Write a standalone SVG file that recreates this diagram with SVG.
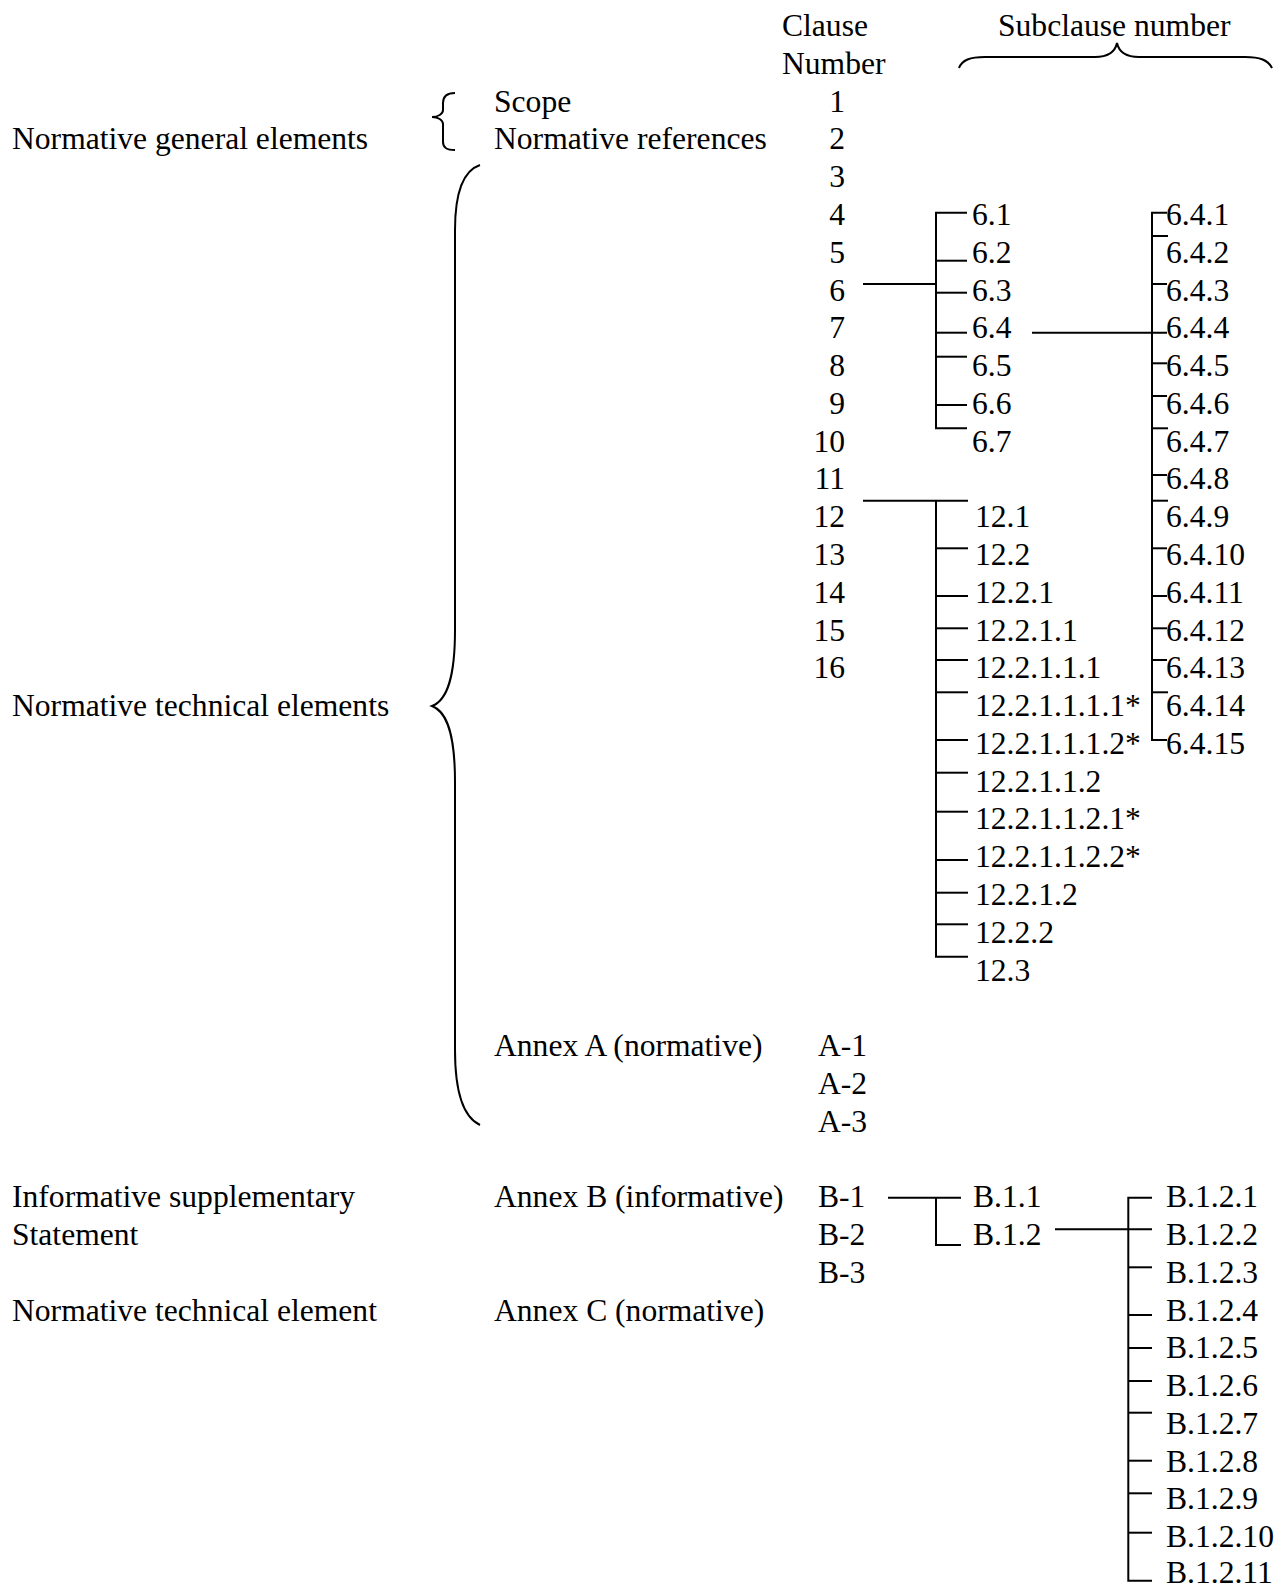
<svg xmlns="http://www.w3.org/2000/svg" width="1276" height="1586" viewBox="0 0 1276 1586">
<style>
text{font-family:"Liberation Serif","Times New Roman",serif;font-size:31.6px;fill:#000}
.r{text-anchor:end}
line,path{stroke:#000;stroke-width:2;fill:none}
</style>
<rect width="1276" height="1586" fill="#fff"/>
<g id="headers">
<text x="782" y="36">Clause</text>
<text x="782" y="73.8">Number</text>
<text x="998" y="36">Subclause number</text>
</g>
<g id="groups">
<text x="12" y="149.3">Normative general elements</text>
<text x="12" y="716">Normative technical elements</text>
<text x="12" y="1207.2">Informative supplementary</text>
<text x="12" y="1245">Statement</text>
<text x="12" y="1320.5">Normative technical element</text>
</g>
<g id="sections">
<text x="494" y="111.6">Scope</text>
<text x="494" y="149.3">Normative references</text>
<text x="494" y="1056.1">Annex A (normative)</text>
<text x="494" y="1207.2">Annex B (informative)</text>
<text x="494" y="1320.5">Annex C (normative)</text>
</g>
<g id="clauses">
<text class="r" x="845" y="111.6">1</text>
<text class="r" x="845" y="149.3">2</text>
<text class="r" x="845" y="187.1">3</text>
<text class="r" x="845" y="224.9">4</text>
<text class="r" x="845" y="262.7">5</text>
<text class="r" x="845" y="300.5">6</text>
<text class="r" x="845" y="338.2">7</text>
<text class="r" x="845" y="376">8</text>
<text class="r" x="845" y="413.8">9</text>
<text class="r" x="845" y="451.6">10</text>
<text class="r" x="845" y="489.4">11</text>
<text class="r" x="845" y="527.1">12</text>
<text class="r" x="845" y="564.9">13</text>
<text class="r" x="845" y="602.7">14</text>
<text class="r" x="845" y="640.5">15</text>
<text class="r" x="845" y="678.3">16</text>
<text x="818" y="1056.1">A-1</text>
<text x="818" y="1093.8">A-2</text>
<text x="818" y="1131.6">A-3</text>
<text x="818" y="1207.2">B-1</text>
<text x="818" y="1245">B-2</text>
<text x="818" y="1282.7">B-3</text>
</g>
<g id="sub6">
<text x="972" y="224.9">6.1</text>
<text x="972" y="262.7">6.2</text>
<text x="972" y="300.5">6.3</text>
<text x="972" y="338.2">6.4</text>
<text x="972" y="376">6.5</text>
<text x="972" y="413.8">6.6</text>
<text x="972" y="451.6">6.7</text>
</g>
<g id="sub64">
<text x="1166" y="224.9">6.4.1</text>
<text x="1166" y="262.7">6.4.2</text>
<text x="1166" y="300.5">6.4.3</text>
<text x="1166" y="338.2">6.4.4</text>
<text x="1166" y="376">6.4.5</text>
<text x="1166" y="413.8">6.4.6</text>
<text x="1166" y="451.6">6.4.7</text>
<text x="1166" y="489.4">6.4.8</text>
<text x="1166" y="527.1">6.4.9</text>
<text x="1166" y="564.9">6.4.10</text>
<text x="1166" y="602.7">6.4.11</text>
<text x="1166" y="640.5">6.4.12</text>
<text x="1166" y="678.3">6.4.13</text>
<text x="1166" y="716">6.4.14</text>
<text x="1166" y="753.8">6.4.15</text>
</g>
<g id="sub12">
<text x="975" y="527.1">12.1</text>
<text x="975" y="564.9">12.2</text>
<text x="975" y="602.7">12.2.1</text>
<text x="975" y="640.5">12.2.1.1</text>
<text x="975" y="678.3">12.2.1.1.1</text>
<text x="975" y="716">12.2.1.1.1.1*</text>
<text x="975" y="753.8">12.2.1.1.1.2*</text>
<text x="975" y="791.6">12.2.1.1.2</text>
<text x="975" y="829.4">12.2.1.1.2.1*</text>
<text x="975" y="867.2">12.2.1.1.2.2*</text>
<text x="975" y="904.9">12.2.1.2</text>
<text x="975" y="942.7">12.2.2</text>
<text x="975" y="980.5">12.3</text>
</g>
<g id="subB">
<text x="973" y="1207.2">B.1.1</text>
<text x="973" y="1245">B.1.2</text>
<text x="1166" y="1207.2">B.1.2.1</text>
<text x="1166" y="1245">B.1.2.2</text>
<text x="1166" y="1282.7">B.1.2.3</text>
<text x="1166" y="1320.5">B.1.2.4</text>
<text x="1166" y="1358.3">B.1.2.5</text>
<text x="1166" y="1396.1">B.1.2.6</text>
<text x="1166" y="1433.9">B.1.2.7</text>
<text x="1166" y="1471.6">B.1.2.8</text>
<text x="1166" y="1509.4">B.1.2.9</text>
<text x="1166" y="1547.2">B.1.2.10</text>
<text x="1166" y="1582.5">B.1.2.11</text>
</g>
<g id="braces">
<path d="M959,68 C962,60 970,57 985,57 L1095,57 C1108,57 1115,52 1117,43 C1119,52 1126,57 1139,57 L1245,57 C1260,57 1268,60 1272,68"/>
<path d="M455,93 C447,93 443,96 443,103 L443,110 C443,114 438,117 432,117 C438,117 443,120 443,124 L443,142 C443,148 447,150 455,150"/>
<path d="M480,165 C465,170 455,190 455,230 L455,630 C455,675 448,700 432,706 C448,712 455,737 455,782 L455,1050 C455,1095 465,1118 480,1125"/>
</g>
<g id="connectors">
<line x1="863" y1="284" x2="936" y2="284"/>
<path d="M967,212.7 H936 V428.3 H967"/>
<line x1="936" y1="260.7" x2="967" y2="260.7"/>
<line x1="936" y1="292.7" x2="967" y2="292.7"/>
<line x1="936" y1="332.7" x2="967" y2="332.7"/>
<line x1="936" y1="356.7" x2="967" y2="356.7"/>
<line x1="936" y1="405" x2="967" y2="405"/>
<line x1="1032" y1="332.7" x2="1167" y2="332.7"/>
<path d="M1167,212.7 H1152 V740 H1167"/>
<line x1="1152" y1="236" x2="1168" y2="236"/>
<line x1="1152" y1="284" x2="1167" y2="284"/>
<line x1="1152" y1="363.3" x2="1167" y2="363.3"/>
<line x1="1152" y1="396" x2="1167" y2="396"/>
<line x1="1152" y1="428.3" x2="1168" y2="428.3"/>
<line x1="1152" y1="475" x2="1167" y2="475"/>
<line x1="1152" y1="500.7" x2="1168" y2="500.7"/>
<line x1="1152" y1="548.3" x2="1167" y2="548.3"/>
<line x1="1152" y1="596" x2="1167" y2="596"/>
<line x1="1152" y1="628.3" x2="1167" y2="628.3"/>
<line x1="1152" y1="660" x2="1167" y2="660"/>
<line x1="1152" y1="692.3" x2="1168" y2="692.3"/>
<line x1="863" y1="500.7" x2="968" y2="500.7"/>
<path d="M936,500.7 V956.7 H968"/>
<line x1="936" y1="548.3" x2="968" y2="548.3"/>
<line x1="936" y1="596" x2="968" y2="596"/>
<line x1="936" y1="628.3" x2="968" y2="628.3"/>
<line x1="936" y1="660" x2="968" y2="660"/>
<line x1="936" y1="692.3" x2="968" y2="692.3"/>
<line x1="936" y1="740" x2="968" y2="740"/>
<line x1="936" y1="772.7" x2="968" y2="772.7"/>
<line x1="936" y1="811.7" x2="968" y2="811.7"/>
<line x1="936" y1="860" x2="968" y2="860"/>
<line x1="936" y1="892.7" x2="968" y2="892.7"/>
<line x1="936" y1="924.3" x2="968" y2="924.3"/>
<line x1="888" y1="1197.7" x2="961" y2="1197.7"/>
<path d="M936,1197.7 V1245 H961"/>
<line x1="1055" y1="1229.3" x2="1152" y2="1229.3"/>
<path d="M1152,1197.7 H1128.3 V1580.7 H1152"/>
<line x1="1128.3" y1="1267.3" x2="1152" y2="1267.3"/>
<line x1="1128.3" y1="1315" x2="1152" y2="1315"/>
<line x1="1128.3" y1="1348" x2="1152" y2="1348"/>
<line x1="1128.3" y1="1381" x2="1152" y2="1381"/>
<line x1="1128.3" y1="1412.7" x2="1152" y2="1412.7"/>
<line x1="1128.3" y1="1460.7" x2="1152" y2="1460.7"/>
<line x1="1128.3" y1="1493.3" x2="1152" y2="1493.3"/>
<line x1="1128.3" y1="1532.7" x2="1152" y2="1532.7"/>
</g>
</svg>
